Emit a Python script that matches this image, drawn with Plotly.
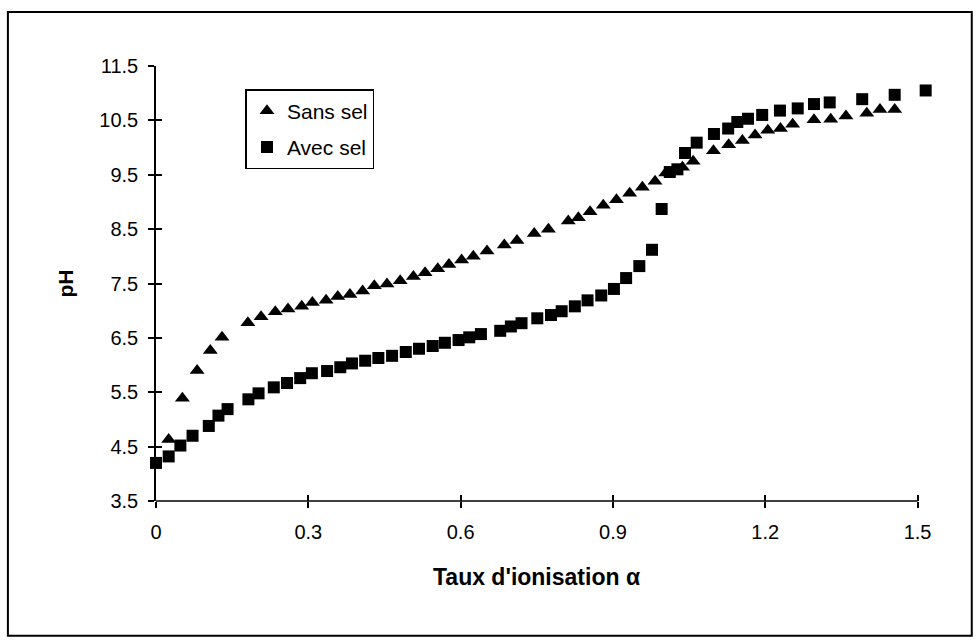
import plotly.graph_objects as go

# --- data ---
sans_x = [0.025, 0.052, 0.081, 0.107, 0.13, 0.181, 0.207, 0.235, 0.26, 0.287, 0.308, 0.335,
          0.358, 0.382, 0.407, 0.43, 0.455, 0.481, 0.507, 0.53, 0.555, 0.577, 0.602, 0.625,
          0.652, 0.686, 0.711, 0.745, 0.773, 0.812, 0.832, 0.855, 0.881, 0.907, 0.933, 0.958,
          0.983, 1.004, 1.022, 1.037, 1.058, 1.098, 1.128, 1.155, 1.18, 1.205, 1.23, 1.254,
          1.296, 1.329, 1.359, 1.4, 1.426, 1.455]
sans_y = [4.63, 5.39, 5.9, 6.27, 6.51, 6.78, 6.89, 6.98, 7.03, 7.08, 7.15, 7.19,
          7.26, 7.30, 7.36, 7.46, 7.49, 7.55, 7.63, 7.70, 7.77, 7.85, 7.93, 8.0,
          8.1, 8.21, 8.29, 8.42, 8.50, 8.65, 8.71, 8.82, 8.94, 9.04, 9.16, 9.27,
          9.38, 9.53, 9.59, 9.64, 9.75, 9.94, 10.05, 10.13, 10.23, 10.32, 10.35, 10.43,
          10.51, 10.52, 10.58, 10.63, 10.70, 10.70]

avec_x = [0, 0.025, 0.048, 0.072, 0.104, 0.123, 0.141, 0.182, 0.202, 0.232, 0.258, 0.284,
          0.307, 0.337, 0.363, 0.386, 0.412, 0.438, 0.465, 0.492, 0.518, 0.545, 0.569, 0.596,
          0.617, 0.64, 0.678, 0.699, 0.72, 0.751, 0.778, 0.799, 0.825, 0.85, 0.877, 0.902,
          0.926, 0.952, 0.977, 0.996, 1.012, 1.027, 1.042, 1.065, 1.099, 1.127, 1.145, 1.166,
          1.194, 1.229, 1.264, 1.296, 1.327, 1.391, 1.455, 1.516]
avec_y = [4.2, 4.32, 4.52, 4.70, 4.88, 5.07, 5.19, 5.37, 5.48, 5.59, 5.67, 5.76,
          5.85, 5.89, 5.96, 6.03, 6.08, 6.13, 6.17, 6.24, 6.30, 6.35, 6.41, 6.46,
          6.51, 6.57, 6.63, 6.71, 6.77, 6.86, 6.92, 6.99, 7.08, 7.19, 7.28, 7.40,
          7.60, 7.82, 8.12, 8.87, 9.55, 9.6, 9.9, 10.09, 10.25, 10.35, 10.47, 10.53,
          10.6, 10.68, 10.72, 10.80, 10.83, 10.89, 10.97, 11.05]

x_ticks = [0, 0.3, 0.6, 0.9, 1.2, 1.5]
x_ticktext = ["0", "0.3", "0.6", "0.9", "1.2", "1.5"]
y_ticks = [3.5, 4.5, 5.5, 6.5, 7.5, 8.5, 9.5, 10.5, 11.5]
y_ticktext = ["3.5", "4.5", "5.5", "6.5", "7.5", "8.5", "9.5", "10.5", "11.5"]

series_names = ["Sans sel", "Avec sel"]
x_title = "Taux d'ionisation α"
y_title = "pH"

FONT = "Liberation Sans, Arial, sans-serif"
X_MAX_AXIS = 1.5      # end of the drawn axis line
X_RANGE = [0, 1.56]   # a little room so the last point (beyond 1.5) is shown

fig = go.Figure()
fig.add_trace(go.Scatter(x=sans_x, y=sans_y, mode="markers", name=series_names[0],
                         legendgroup="a", cliponaxis=False,
                         marker=dict(symbol="triangle-up", size=13, color="black")))
fig.add_trace(go.Scatter(x=avec_x, y=avec_y, mode="markers", name=series_names[1],
                         legendgroup="b", cliponaxis=False,
                         marker=dict(symbol="square", size=12, color="black")))
# overlay axes to get ticks crossing the axis lines
fig.add_trace(go.Scatter(x=[None], y=[None], xaxis="x2", yaxis="y2",
                         showlegend=False, hoverinfo="skip"))

common = dict(showgrid=False, zeroline=False, color="black",
              tickfont=dict(family=FONT, size=20, color="black"))

fig.update_layout(
    width=980, height=643,
    margin=dict(l=156, r=32, t=66, b=142),
    paper_bgcolor="white", plot_bgcolor="white",
    font=dict(family=FONT, color="black"),
    showlegend=True,
    legend=dict(x=0.113, y=0.947, xanchor="left", yanchor="top",
                bordercolor="black", borderwidth=1.5, bgcolor="white",
                font=dict(family=FONT, size=21, color="black"),
                tracegroupgap=6, itemwidth=30),
    xaxis=dict(range=X_RANGE, tickvals=x_ticks, ticktext=x_ticktext,
               showline=False,
               ticks="outside", ticklen=6, tickwidth=1.5, tickcolor="black",
               ticklabelstandoff=7,
               **common),
    yaxis=dict(range=[3.5, 11.5], tickvals=y_ticks, ticktext=y_ticktext,
               showline=True, linecolor="black", linewidth=1.5,
               ticks="outside", ticklen=6, tickwidth=1.5, tickcolor="black",
               ticklabelstandoff=6,
               title=dict(text=y_title, standoff=20,
                          font=dict(family=FONT, size=21, color="black", weight="bold")),
               **common),
    xaxis2=dict(range=X_RANGE, overlaying="x", anchor="y2", tickvals=x_ticks,
                ticks="inside", ticklen=6, tickwidth=1.5, tickcolor="black",
                showticklabels=False, showline=False, showgrid=False, zeroline=False),
    yaxis2=dict(range=[3.5, 11.5], overlaying="y", anchor="x2", tickvals=y_ticks,
                ticks="inside", ticklen=6, tickwidth=1.5, tickcolor="black",
                showticklabels=False, showline=False, showgrid=False, zeroline=False),
)

# x axis title, centred under the drawn axis (0 .. 1.5)
fig.add_annotation(text=x_title, xref="x", yref="paper",
                   x=(x_ticks[0] + X_MAX_AXIS) / 2, y=-0.175,
                   xanchor="center", yanchor="middle", showarrow=False,
                   font=dict(family=FONT, size=23, color="black", weight="bold"))

# x axis line drawn from 0 to 1.5 only
fig.add_shape(type="line", xref="x", yref="paper", x0=0, x1=X_MAX_AXIS, y0=0, y1=0,
              line=dict(color="black", width=1.5))

# outer chart frame
fig.add_shape(type="rect", xref="paper", yref="paper",
              x0=-0.187, x1=1.030, y0=-0.31, y1=1.124,
              line=dict(color="black", width=2), fillcolor="rgba(0,0,0,0)", layer="below")

fig.write_html("out.html")
